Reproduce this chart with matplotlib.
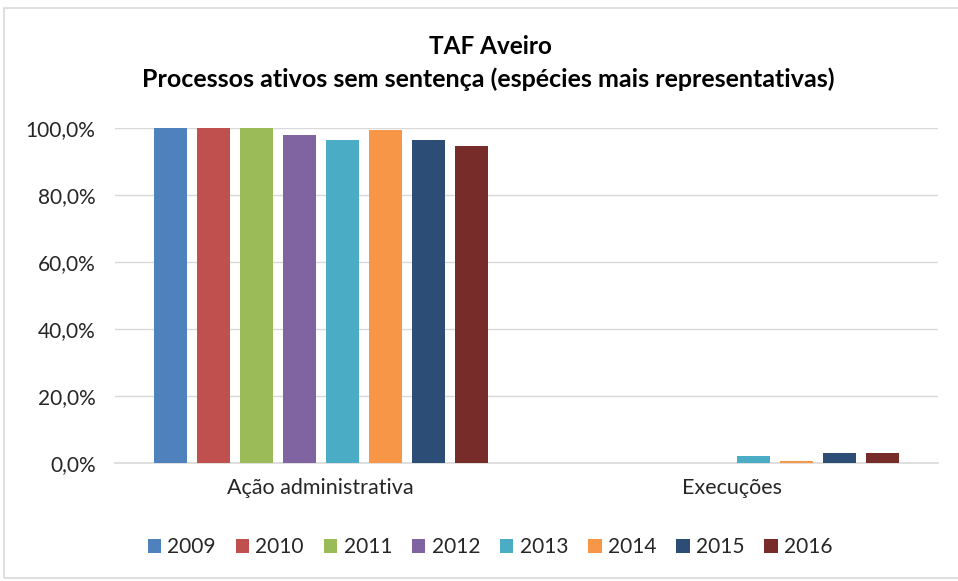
import numpy as np
import matplotlib.pyplot as plt
from matplotlib.ticker import FuncFormatter
from matplotlib.patches import Rectangle

# dados
categorias = ["Ação administrativa", "Execuções"]
anos = ["2009", "2010", "2011", "2012", "2013", "2014", "2015", "2016"]
acao_adm = [100.0, 100.0, 100.0, 97.9, 96.4, 99.4, 96.4, 94.6]
execucoes = [0.0, 0.0, 0.0, 0.0, 2.2, 0.6, 2.9, 2.9]
cores = ["#4F81BD", "#C0504D", "#9BBB59", "#8064A2",
         "#4BACC6", "#F79646", "#2C4D75", "#772C2A"]

plt.rcParams['font.family'] = ['Lato', 'DejaVu Sans']
cor_txt = "#262626"

fig = plt.figure(figsize=(9.58, 5.81), dpi=100)
ax = fig.add_axes([115/958, 1 - 463/581, (938-115)/958, (463-128)/581])

# moldura do grafico
fig.patches.append(Rectangle((4/958, 3/581), 1.2, 1 - 11/581, transform=fig.transFigure,
                             fill=False, edgecolor="#D9D9D9", linewidth=1.2))

x = np.arange(len(categorias))
larg = 0.08
passo = 0.1045
for i, ano in enumerate(anos):
    vals = [acao_adm[i], execucoes[i]]
    ax.bar(x + (i - 3.5) * passo, vals, larg, color=cores[i], label=ano, zorder=3)

ax.set_xlim(-0.5, 1.5)
ax.set_ylim(0, 100)
ax.set_yticks(np.arange(0, 101, 20))
ax.yaxis.set_major_formatter(FuncFormatter(lambda v, p: f"{v:.1f}%".replace(".", ",")))
ax.set_xticks(x)
ax.set_xticklabels(categorias)
ax.grid(axis="y", color="#D9D9D9", linewidth=1, zorder=0)
for s in ["top", "left", "right"]:
    ax.spines[s].set_visible(False)
ax.spines["bottom"].set_color("#D9D9D9")
ax.spines["bottom"].set_linewidth(1.2)
ax.tick_params(axis="both", length=0, colors=cor_txt)
ax.tick_params(axis="y", pad=14, labelsize=15)
ax.tick_params(axis="x", pad=11, labelsize=15.5)

fig.text(490/958, 1 - 46/581, "TAF Aveiro", ha="center", va="center",
         fontsize=17.5, fontweight="bold", color="black")
fig.text(488/958, 1 - 79/581, "Processos ativos sem sentença (espécies mais representativas)",
         ha="center", va="center", fontsize=18, fontweight="bold", color="black")

fig.legend(loc="center", bbox_to_anchor=(490/958, 1 - 547/581), ncol=8, frameon=False,
           fontsize=15, handlelength=0.65, handleheight=0.65, handletextpad=0.3,
           columnspacing=0.95, labelcolor=cor_txt)

fig.savefig("out.png", dpi=100)
